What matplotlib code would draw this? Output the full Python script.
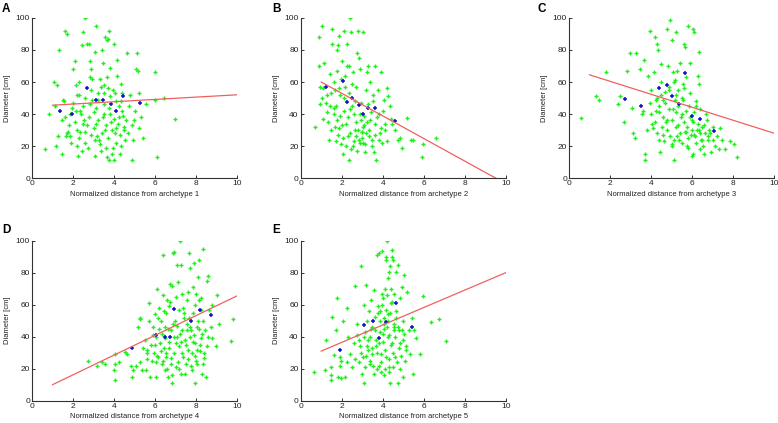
import matplotlib
matplotlib.use('Agg')
from matplotlib import pyplot as plt
import numpy as np

plt.rcParams['font.family'] = ['Liberation Sans', 'DejaVu Sans']

# panel A: green = all trees, blue = archetype group
a_x = [0.64,0.83,1.09,1.24,1.12,1.16,1.34,1.29,1.45,1.5,1.48,1.61,1.73,1.58,1.66,1.74,1.86,1.87,1.94,2.02,
       2.1,2.15,2.18,2.18,2.26,2.3,2.43,2.5,2.59,2.35,2.5,2.6,2.7,2.8,2.83,2.83,2.9,2.93,3.0,3.05,
       3.1,3.08,3.14,3.2,3.26,3.32,3.37,3.4,3.44,3.49,3.53,3.58,3.6,3.65,3.68,3.7,3.75,3.73,3.8,3.86,
       3.78,3.91,3.97,4.02,4.07,4.02,4.09,4.14,4.17,4.22,4.27,4.32,4.33,4.38,4.43,4.48,4.54,4.63,4.71,4.79,
       4.87,4.92,4.98,5.06,5.11,5.16,5.24,5.33,5.41,5.57,6.01,6.09,6.01,6.42,6.99,
       2.1,2.2,2.3,2.4,2.5,2.6,2.7,2.8,2.9,3.0,3.1,3.2,3.3,3.4,3.5,3.6,3.7,3.8,3.9,4.0,
       4.1,4.2,4.3,4.4,4.5,2.0,2.3,2.6,2.9,3.2,3.5,3.8,4.1,1.8,1.9,2.45,2.75,3.05,3.35,3.65,
       3.95,4.25,4.6,4.7,4.9,5.0,5.2,1.6,1.7,2.15,2.55,2.85,3.15,3.45,3.75,4.05,4.35,3.55,2.35,2.95]
a_y = [18,40,60,58,45,20,80,26,36,49,15,92,90,48,26,29,26,40,44,68,
       73,58,52,20,14,60,83,91,100,42,34,29,84,84,73,63,68,49,41,24,
       95,79,34,49,24,62,57,80,72,40,53,88,19,86,63,56,92,87,69,35,
       11,15,55,84,28,11,31,74,64,45,15,48,59,53,39,32,24,78,45,52,
       11,24,36,68,78,67,53,38,25,46,66,13,49,50,37,
       35,30,25,40,45,22,33,38,27,31,44,36,21,28,46,33,25,40,30,37,
       22,34,27,42,30,47,52,50,55,53,58,51,48,33,22,17,19,14,17,13,
       19,38,36,28,33,42,31,38,28,42,36,46,26,38,44,53,20,30,29,62]
a_bx = [1.37,1.97,2.7,3.11,3.47,3.83,4.12,4.43,5.28]
a_by = [42,40,56.5,49,49,46,42,51,47]

b_x = [0.7,0.91,1.06,0.9,0.95,1.03,1.08,1.16,1.21,1.27,1.34,1.37,1.44,1.47,1.52,1.55,1.6,1.63,1.68,1.73,
       1.76,1.79,1.84,1.85,1.89,1.92,1.97,2.0,2.05,2.09,2.12,2.17,2.22,2.28,2.32,2.35,2.38,2.41,2.45,2.5,
       2.55,2.59,2.64,2.71,2.76,2.8,2.84,2.9,2.94,2.99,3.02,3.03,3.1,3.15,3.2,3.23,3.3,3.34,3.39,3.46,
       3.51,3.56,3.61,3.64,3.69,3.75,3.82,3.92,3.96,4.05,4.13,4.21,4.26,4.37,4.45,4.6,4.73,4.83,4.94,5.19,
       5.38,5.48,5.95,5.91,6.61,
       1.5,1.6,1.7,1.8,1.9,2.0,2.1,2.2,2.3,2.4,2.5,2.6,2.7,2.8,2.9,3.0,3.1,3.2,3.3,3.4,
       3.5,3.6,3.7,3.8,3.9,4.0,4.2,4.4,1.3,1.45,1.75,2.05,2.35,2.65,2.95,3.25,3.55,3.85,2.15,2.45,
       2.75,3.05,3.35,1.95,2.25,2.55,2.85,1.65,3.15,2.4,2.9,3.45,1.85,2.7,3.0,4.1,1.1,0.95]
b_y = [32,88,95,70,57,50,37,72,47,41,35,24,65,53,93,84,60,44,32,23,
       80,67,83,56,89,39,21,73,15,50,92,64,34,84,26,11.5,70,100,91,59,
       20,40,30,57,78,92,24,68,47,29,91,22,39,16,55,66,70,30,60,24,
       48,16,70,34,11.5,55,40,66,22,49,30,56,51,45,34,30,24,25,19,37.5,
       24,24,21,13,25,
       30,40,45,27,52,33,42,20,38,28,45,23,35,30,40,25,33,28,46,36,
       20,27,38,24,31,42,23,37,52,45,36,25,53,48,36,35,52,28,57,18,
       17,32,26,62,70,66,75,55,21,43,22,41,31,26,29,34,56,46]
b_bx = [1.21,2.06,2.51,2.28,2.84,3.05,3.28,3.61,4.6]
b_by = [57,60.5,50,47.5,45.5,40,44,43.5,35.5]

c_x = [0.6,1.3,1.45,1.8,2.4,2.5,2.69,2.83,2.96,3.05,3.26,3.13,3.21,3.45,3.58,3.65,3.73,3.7,3.86,3.94,
       3.97,4.02,4.07,4.14,4.19,4.23,4.27,4.3,4.35,4.4,4.43,4.48,4.51,4.56,4.59,4.64,4.69,4.76,4.79,4.84,
       4.89,4.92,4.95,5.0,5.03,5.05,5.08,5.11,5.15,5.18,5.21,5.24,5.28,5.33,5.37,5.42,5.49,5.54,5.57,5.6,
       5.64,5.68,5.73,5.78,5.81,5.85,5.9,5.93,5.98,6.03,6.06,6.11,6.14,6.19,6.22,6.27,6.32,6.35,6.38,6.43,
       6.48,6.55,6.63,6.71,6.79,6.87,6.95,7.04,7.12,7.2,7.36,7.44,7.6,7.85,8.05,8.21,
       4.0,4.2,4.4,4.6,4.8,5.0,5.2,5.4,5.6,5.8,6.0,6.2,6.4,6.6,6.8,5.1,5.3,5.5,5.7,5.9,
       6.1,6.3,6.5,4.5,4.7,4.9,5.1,5.3,5.5,5.7,5.9,6.1,4.1,4.3,4.6,4.9,5.2,5.6,6.2,6.7,
       7.0,3.6,3.8,4.4,5.0,5.8,6.0,6.4,6.6,7.3,5.45,5.75,6.05,4.75,4.25,5.25,6.35,6.85]
c_y = [37.5,51,49,66,46,51,35,67,78,44,78,28,25,68,40,74,15,11,64,47,
       92,55,34,66,88,49,84,28,80,41,16,60,71,32,49,23,54,93,36,70,
       57,26,99,86,21,66,43,11,61,49,91,32,67,55,24,72,40,59,49,84,
       82,29,63,20,95,45,72,27,36,15,93,91,26,48,30,64,59,79,43,24,
       32,20,28,36,24,28,16,32,20,26,31,24,18,23,21,13,
       40,35,45,38,30,36,41,28,35,25,30,22,28,33,26,24,33,22,29,38,
       27,34,24,52,47,55,60,45,50,42,53,41,31,50,27,43,52,56,45,40,
       24,42,30,24,20,19,14,18,15,18,38,32,35,35,42,26,30,30]
c_bx = [2.74,3.52,4.4,4.76,5.03,5.68,5.37,6.01,6.37,7.05]
c_by = [49.5,45,56.5,58,51,65.5,46.5,39,37,29.5]

d_x = [2.74,3.18,3.42,3.58,4.04,4.07,4.02,4.04,4.25,4.56,4.64,4.81,4.89,4.93,5.05,5.16,5.26,5.29,5.29,5.37,
       5.49,5.54,5.59,5.62,5.7,5.73,5.78,5.81,5.86,5.91,5.94,5.98,6.03,6.07,6.11,6.14,6.19,6.24,6.27,6.32,
       6.37,6.4,6.43,6.47,6.5,6.53,6.56,6.6,6.63,6.66,6.69,6.73,6.76,6.79,6.82,6.84,6.89,6.92,6.95,6.99,
       7.02,7.05,7.08,7.12,7.15,7.18,7.21,7.25,7.28,7.31,7.34,7.38,7.41,7.44,7.49,7.54,7.57,7.6,7.65,7.69,
       7.72,7.75,7.8,7.83,7.87,7.9,7.93,7.96,7.99,8.03,8.06,8.09,8.13,8.16,8.19,8.22,8.26,8.29,8.32,8.35,
       8.39,8.42,8.47,8.52,8.55,8.58,8.62,8.71,8.79,8.96,9.0,9.12,9.69,9.82,
       6.0,6.1,6.2,6.3,6.4,6.5,6.6,6.7,6.8,6.9,7.0,7.1,7.2,7.3,7.4,7.5,7.6,7.7,7.8,7.9,
       8.0,8.1,8.2,8.3,8.4,6.15,6.45,6.75,7.05,7.35,7.65,7.95,8.25,6.55,6.85,7.15,7.45,7.75,8.05,8.35,
       6.35,6.95,7.25,7.55,7.85,8.15,6.05,6.65,7.95,5.9,5.6,5.4,8.6,8.8,7.0,7.6]
d_y = [25,21.5,24,23,29,23,19,13,24,30.5,29,22,15,19,22,46,52,51,24,19,
       38,19,30,32,50,61,15,35,25,46,30,54,15,40,70,27.5,58,36,50,23,
       91,66,33,19,46,55,27.5,63,15,37,59,73,23,44,11,72,92,30,93,50,
       21,85,40,74,57,34,100,17,85,44,67,27.5,55,38,23,48,63,31.5,92,83,
       40,44,19,71,55,86,11,36,67,46,23,77.5,63,88,31,39,57,17,95,50,
       30,44,15,75,34,78,57,46,39,34,66,48,37.5,51,
       35,28,45,31,25,39,20,33,27,48,36,24,42,30,52,35,26,46,30,41,
       25,50,35,42,27,52,56,62,47,58,52,60,64,30,16,20,17,22,32,23,
       42,40,37,44,37,45,24,45,28,41,26,33,40,60,65,68]
d_bx = [4.89,6.06,6.48,6.73,6.95,7.78,8.18,8.75]
d_by = [33,41,40,40,57.5,50,57,53.5]

e_x = [0.67,1.19,1.24,1.48,1.48,1.48,1.52,1.63,1.73,1.79,1.84,1.92,1.92,1.96,1.97,2.06,2.17,2.25,2.28,2.33,
       2.41,2.5,2.58,2.66,2.74,2.77,2.82,2.9,2.94,2.98,3.03,3.07,3.07,3.1,3.15,3.2,3.23,3.26,3.31,3.36,
       3.39,3.42,3.47,3.5,3.56,3.59,3.64,3.67,3.72,3.75,3.8,3.83,3.85,3.88,3.92,3.95,3.98,4.01,4.05,4.08,
       4.11,4.14,4.17,4.21,4.24,4.27,4.3,4.33,4.37,4.4,4.43,4.47,4.5,4.54,4.56,4.6,4.63,4.67,4.73,4.76,
       4.8,4.83,4.86,4.93,4.98,5.0,5.03,5.06,5.12,5.19,5.27,5.35,5.43,5.46,5.55,5.64,5.84,5.97,6.36,6.77,7.1,
       3.2,3.3,3.4,3.5,3.6,3.7,3.8,3.9,4.0,4.1,4.2,4.3,4.4,4.5,4.6,4.7,4.8,4.9,5.0,5.1,
       4.05,4.15,4.25,4.35,4.45,4.55,3.95,3.85,3.75,4.65,4.1,4.3,4.5,3.9,3.7,3.45,3.55,3.25,3.15,2.95,
       2.85,2.65,4.0,4.2,4.4,4.25,4.35,4.15,4.45,4.05,4.55,4.75,4.95,5.15,3.65,4.3,4.85]
e_y = [18,19,38,21,16,13,52.5,28.5,44,64,15,27.5,22,14,25,50,15,24,58,40,
       29,21,36,72,48,41,24,34,84,17,27.5,60,11,40,21,72.5,50,31.5,56,23,
       40,63,46,29,17,69,52.5,34,91,59,22,92,43,56,29.5,93.5,67,37,16,48,
       70,27.5,88,100,40,54,80.5,21,11,61,94,36,88,46,67,27.5,80.5,56,85,11,
       44,64,36,71,50,15,42,78.5,31.5,68,44,29.5,52,17,44,39,29.5,65.5,49,51,37.5,
       28,38,25,33,44,30,36,24,42,32,46,26,35,30,40,24,33,28,38,25,
       52,57,50,55,62,48,60,50,55,52,20,18,21,18,20,45,22,34,43,30,
       38,26,64,66,70,77,84,90,90,45,44,46,44,34,38,41,20]
e_bx = [1.94,3.08,3.52,3.8,4.16,4.67,5.45]
e_by = [32,47.5,50,39.5,49.5,61,46]

# fitted lines (end points)
fit_x0 = [1, 1, 1, 1, 1]
fit_x1 = [10, 9.5, 10, 10, 10]
fit_y0 = [45.5, 60, 64.5, 10, 31]
fit_y1 = [52, 0, 28, 65.5, 80]

panels = [
    ('A', a_x, a_y, a_bx, a_by),
    ('B', b_x, b_y, b_bx, b_by),
    ('C', c_x, c_y, c_bx, c_by),
    ('D', d_x, d_y, d_bx, d_by),
    ('E', e_x, e_y, e_bx, e_by),
]

W, H = 778, 423
fig = plt.figure(figsize=(W/100, H/100), dpi=100)

lefts = [32, 300.7, 569, 32, 300.7]
bottoms = [178, 178, 178, 400.7, 400.7]
letter_xy = [(2, 3), (272, 3), (537, 3), (2, 224), (272, 224)]

for i, (name, gx, gy, bx, by) in enumerate(panels):
    ax = fig.add_axes([lefts[i]/W, (H-bottoms[i])/H, 205/W, 160/H])
    ax.plot(gx, gy, '+', color='#22ee22', ms=3.4, mew=1.0, ls='none')
    ax.plot(bx, by, '+', color='#1515c8', ms=3.4, mew=1.1, ls='none')
    ax.plot([fit_x0[i], fit_x1[i]], [fit_y0[i], fit_y1[i]], color='#f06060', lw=0.9)
    ax.set_xlim(0, 10)
    ax.set_ylim(0, 100)
    ax.set_xticks(range(0, 11, 2))
    ax.set_yticks(range(0, 101, 20))
    for s in ['top', 'right']:
        ax.spines[s].set_visible(False)
    for s in ['left', 'bottom']:
        ax.spines[s].set_linewidth(0.8)
        ax.spines[s].set_color('#333333')
    ax.tick_params(direction='in', length=2.5, width=0.7, labelsize=6, pad=1.5, colors='#333333',
                   labelcolor='#222222')
    ax.set_xlabel('Normalized distance from archetype %d' % (i+1), fontsize=5.5, labelpad=2.5, color='#222222')
    ax.set_ylabel('Diameter [cm]', fontsize=5.5, labelpad=3.5, color='#222222')
    fig.text(letter_xy[i][0]/W, 1 - letter_xy[i][1]/H, name, fontsize=8.5, fontweight='bold',
             va='top', ha='left')

fig.savefig('out.png', dpi=100)
